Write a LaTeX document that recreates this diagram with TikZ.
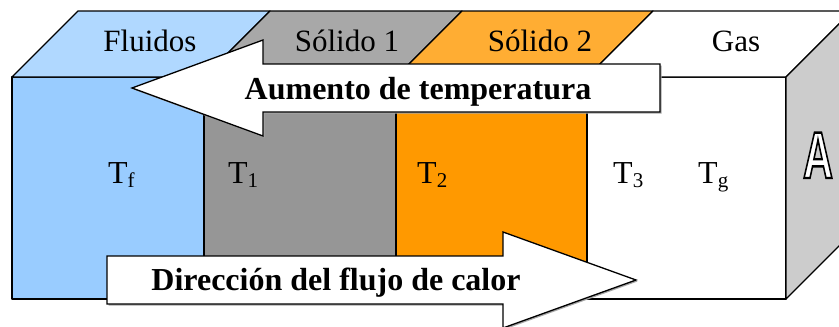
\documentclass[tikz,border=0pt]{standalone}
\usepackage{fontspec}
\setmainfont{Liberation Serif}
\newfontfamily\sidefont{Liberation Sans}
\usetikzlibrary{calc}

\definecolor{fluidfront}{HTML}{99CCFF}
\definecolor{fluidtop}{HTML}{B0D8FF}
\definecolor{solidonefront}{HTML}{969696}
\definecolor{solidonetop}{HTML}{A8A8A8}
\definecolor{solidtwofront}{HTML}{FF9900}
\definecolor{solidtwotop}{HTML}{FFAD33}
\definecolor{sidegray}{HTML}{CCCCCC}

\tikzset{
  face/.style={draw=black,line width=1.3pt,line join=round},
  bigarrow/.style={draw=black,fill=white,line width=1.3pt,line join=miter},
  arrowshadow/.style={fill=black!35,draw=none,shift={(1.5,1.5)}},
  toplabel/.style={font=\fontsize{31}{31}\selectfont,anchor=base,inner sep=0pt},
  templabel/.style={font=\fontsize{32}{32}\selectfont,anchor=base west,inner sep=0pt},
  arrowlabel/.style={font=\fontsize{32}{32}\selectfont\bfseries,anchor=base,inner sep=0pt},
  sideletter/.style={font=\sidefont\bfseries\fontsize{66}{66}\selectfont,xscale=0.63,anchor=base,inner sep=0pt},
}
\newcommand{\tsub}[1]{\raisebox{-4pt}{\fontsize{21}{21}\selectfont #1}}
% hollow letter: fill white, stroke black
\newcommand{\hollow}[1]{\special{pdf:literal direct 2 Tr 2.4 w 0 G 1 g}#1\special{pdf:literal direct 0 Tr 0 g}}

\begin{document}
\begin{tikzpicture}[x=1pt,y=-1pt]
\useasboundingbox (0,0) rectangle (839,327);
\begin{scope}
\clip (0,0) rectangle (839,327);
% front faces
\draw [face,fill=fluidfront] (12,77) rectangle (204,299);
\draw [face,fill=solidonefront] (204,77) rectangle (396,299);
\draw [face,fill=solidtwofront] (396,77) rectangle (587,299);
\draw [face,fill=white] (587,77) rectangle (786,299);
% top faces
\draw [face,fill=fluidtop] (12,77) -- (78,11) -- (270,11) -- (204,77) -- cycle;
\draw [face,fill=solidonetop] (204,77) -- (270,11) -- (462,11) -- (396,77) -- cycle;
\draw [face,fill=solidtwotop] (396,77) -- (462,11) -- (653,11) -- (587,77) -- cycle;
\draw [face,fill=white] (587,77) -- (653,11) -- (852,11) -- (786,77) -- cycle;
% side face
\draw [face,fill=sidegray] (786,77) -- (852,11) -- (852,233) -- (786,299) -- cycle;

	\node [toplabel] (fluidos) at (150,51) {Fluidos};
	\node [toplabel] (solido1) at (347,51) {Sólido 1};
	\node [toplabel] (solido2) at (540,51) {Sólido 2};
	\node [toplabel] (gas) at (736,51) {Gas};

	\node [templabel] (tf) at (108,183) {T\tsub{f}};
	\node [templabel] (t1) at (228,183) {T\tsub{1}};
	\node [templabel] (t2) at (417,183) {T\tsub{2}};
	\node [templabel] (t3) at (613,183) {T\tsub{3}};
	\node [templabel] (tg) at (698,183) {T\tsub{g}};

	\node [sideletter] (letra) at (818,178) {\hollow{A}};

% arrows
\fill [arrowshadow] (132,88) -- (263,40) -- (263,64) -- (660,64) -- (660,112) -- (263,112) -- (263,136) -- cycle;
\draw [bigarrow] (132,88) -- (263,40) -- (263,64) -- (660,64) -- (660,112) -- (263,112) -- (263,136) -- cycle;
	\node [arrowlabel] (aumento) at (418,99) {Aumento de temperatura};
\fill [arrowshadow] (636,280) -- (503,232) -- (503,256) -- (107,256) -- (107,304) -- (503,304) -- (503,328) -- cycle;
\draw [bigarrow] (636,280) -- (503,232) -- (503,256) -- (107,256) -- (107,304) -- (503,304) -- (503,328) -- cycle;
	\node [arrowlabel] (flujo) at (336,290) {Dirección del flujo de calor};
\end{scope}
\end{tikzpicture}
\end{document}
